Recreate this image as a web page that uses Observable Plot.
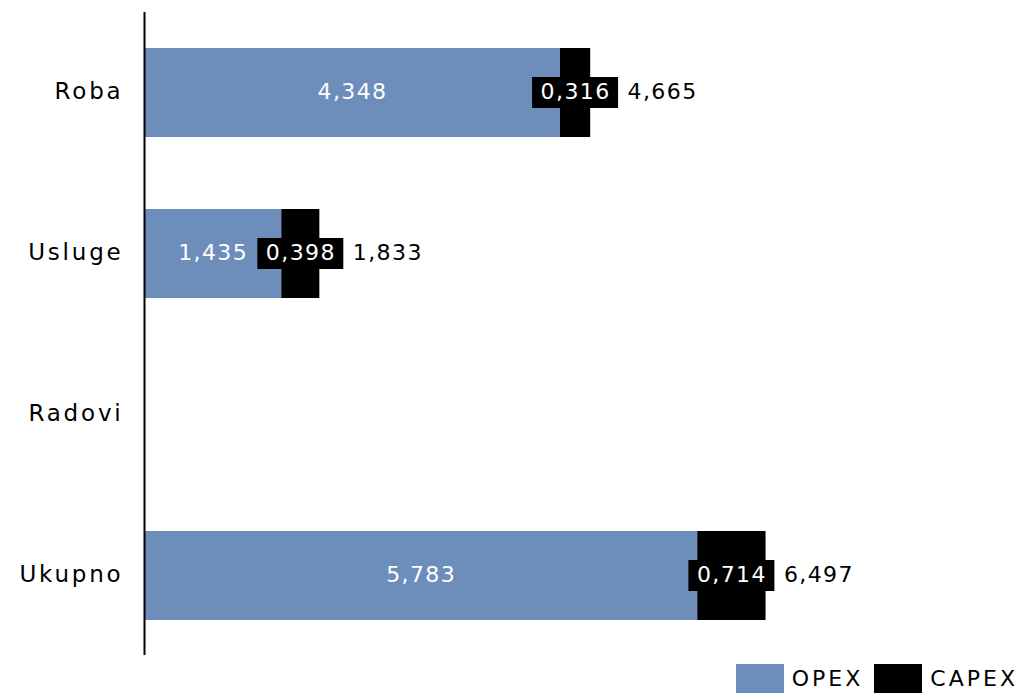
<!DOCTYPE html>
<html>
<head>
<meta charset="utf-8">
<script src="https://cdn.jsdelivr.net/npm/d3@7"></script>
<script src="https://cdn.jsdelivr.net/npm/@observablehq/plot@0.6"></script>
<style>
  html, body { margin: 0; padding: 0; background: #fff; }
  #chart { width: 1023px; }
  .legend { display: flex; justify-content: flex-end; align-items: center; height: 33px; padding-right: 5px;
            font-family: "DejaVu Sans", sans-serif; font-size: 22px; letter-spacing: 3px; color: #000; }
  .legend .item { display: flex; align-items: center; margin-left: 11px; }
  .legend .sw { width: 48px; height: 29px; margin-right: 8px; margin-top: 4px; }
  .legend .lbl { margin-top: 4px; }
  .yax text { letter-spacing: 2.8px; }
</style>
</head>
<body>
<div id="chart"></div>
<script>
const categories = ["Roba", "Usluge", "Radovi", "Ukupno"];
const opex = [4.348, 1.435, null, 5.783];
const capex = [0.316, 0.398, null, 0.714];
const totals = [4.665, 1.833, null, 6.497];
const seriesNames = ["OPEX", "CAPEX"];
const seriesColors = ["#6d8ebb", "#000000"];

const fmt = v => d3.format(".3f")(v).replace(".", ",");
const rows = categories.map((c, i) => ({cat: c, opex: opex[i], capex: capex[i], total: totals[i]}))
  .filter(d => d.opex != null);

const fontSize = 22;
const dy = -1.5;
const plot = Plot.plot({
  width: 1023,
  height: 660,
  marginLeft: 144,
  marginRight: 18,
  marginTop: 12,
  marginBottom: 5,
  style: {fontFamily: "DejaVu Sans, sans-serif", fontSize: fontSize + "px", letterSpacing: "1.4px", background: "#fff"},
  x: {domain: [0, 9], axis: null},
  y: {domain: categories, paddingInner: 0.45, paddingOuter: 0.215, label: null},
  marks: [
    Plot.barX(rows, {y: "cat", x1: 0, x2: "opex", fill: seriesColors[0]}),
    Plot.barX(rows, {y: "cat", x1: "opex", x2: d => d.opex + d.capex, fill: seriesColors[1]}),
    Plot.text(rows, {y: "cat", x: d => d.opex / 2, text: d => fmt(d.opex), fill: "#fff", fontSize, dy}),
    Plot.barX(rows, {y: "cat", x1: d => d.opex + d.capex / 2, x2: d => d.opex + d.capex / 2,
      insetLeft: -43, insetRight: -43, insetTop: 29, insetBottom: 29, fill: "#000"}),
    Plot.text(rows, {y: "cat", x: d => d.opex + d.capex / 2, text: d => fmt(d.capex), fill: "#fff", fontSize, dy}),
    Plot.text(rows, {y: "cat", x: d => d.opex + d.capex / 2, dx: 52, textAnchor: "start",
      text: d => fmt(d.total), fill: "#000", fontSize, dy}),
    Plot.ruleX([0], {stroke: "#000", strokeWidth: 2}),
    Plot.axisY({tickSize: 0, tickPadding: 21, fontSize: 23, fill: "#000", dy, className: "yax"})
  ]
});
document.getElementById("chart").appendChild(plot);

const legend = document.createElement("div");
legend.className = "legend";
seriesNames.forEach((name, i) => {
  const item = document.createElement("div");
  item.className = "item";
  const sw = document.createElement("div");
  sw.className = "sw";
  sw.style.background = seriesColors[i];
  const lbl = document.createElement("span");
  lbl.className = "lbl";
  lbl.textContent = name;
  item.appendChild(sw);
  item.appendChild(lbl);
  legend.appendChild(item);
});
document.getElementById("chart").appendChild(legend);
</script>
</body>
</html>
